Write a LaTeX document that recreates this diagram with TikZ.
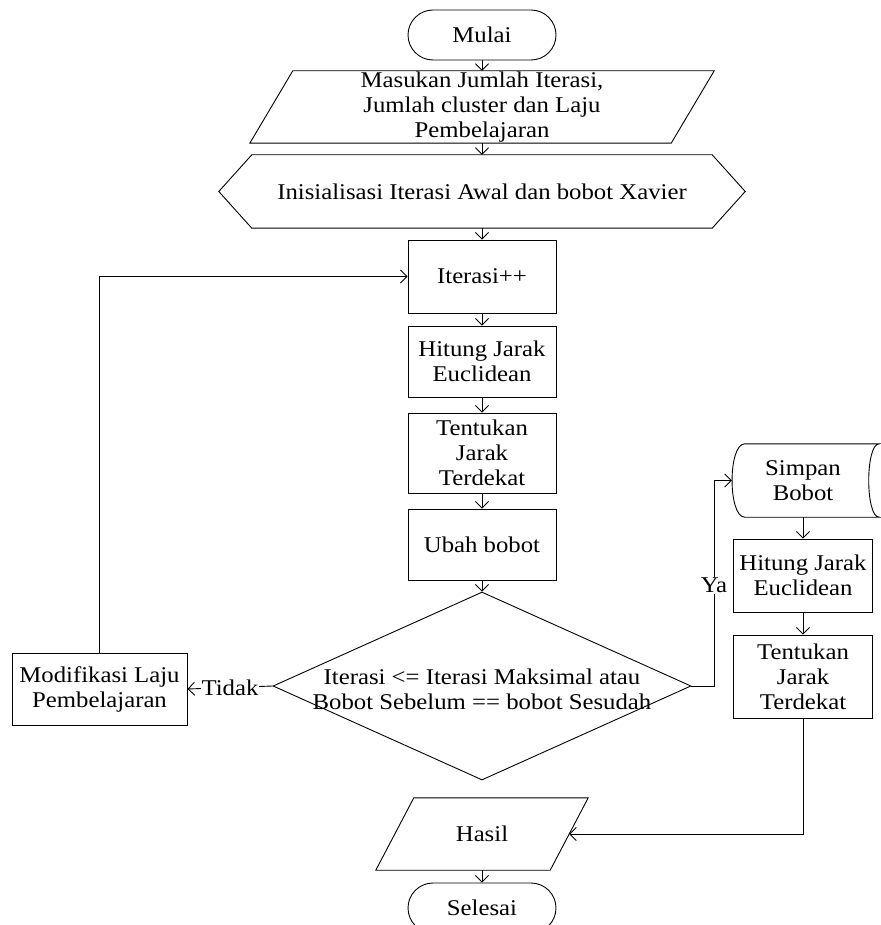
\documentclass[tikz,border=0pt]{standalone}
\usepackage{fontspec}
\setmainfont{Liberation Serif}[FakeStretch=1.1]
\usetikzlibrary{shapes.misc,shapes.geometric,arrows.meta}
\begin{document}
\begin{tikzpicture}[x=1pt,y=-1pt,
  font=\fontsize{22.5}{25}\selectfont,
  every node/.style={align=center, inner sep=0pt},
  line/.style={line width=0.9pt, draw=black},
  arr/.style={line, -{Straight Barb[length=6.5pt,width=13pt]}},
  box/.style={line, rectangle, minimum width=148pt},
  term/.style={line, rounded rectangle, minimum width=148pt, minimum height=50pt},
  lbl/.style={fill=white, inner sep=1pt}]
\fill[white] (0,0) rectangle (880,925);
\useasboundingbox (0,0) rectangle (880,925);

% main column
\node[term] (start) at (482,35) {Mulai};
\node[minimum width=421pt, minimum height=72pt] (inp) at (482,107) {Masukan Jumlah Iterasi,\\Jumlah cluster dan Laju\\Pembelajaran};
\draw[line] ([xshift=21.5pt]inp.north west) -- ([xshift=21.5pt]inp.north east) -- ([xshift=-21.5pt]inp.south east) -- ([xshift=-21.5pt]inp.south west) -- cycle;
\node[minimum width=460pt, minimum height=73pt] (init) at (482,191.5) {Inisialisasi Iterasi Awal dan bobot Xavier};
\draw[line] (init.north west) -- (init.north east) -- ([xshift=33pt]init.east) -- (init.south east) -- (init.south west) -- ([xshift=-33pt]init.west) -- cycle;
\node[box, minimum height=73pt] (it) at (482,276.5) {Iterasi++};
\node[box, minimum height=71pt] (hj) at (482,361.5) {Hitung Jarak\\Euclidean};
\node[box, minimum height=80pt] (tj) at (482,453) {Tentukan\\Jarak\\Terdekat};
\node[box, minimum height=71pt] (ub) at (482,544.5) {Ubah bobot};
\node[line, diamond, shape aspect=2.22, minimum width=418pt, minimum height=188pt] (dm) at (482,686) {};
\node (dmt) at (482,689) {Iterasi <= Iterasi Maksimal atau\\Bobot Sebelum == bobot Sesudah};
\node[line, rectangle, minimum width=175pt, minimum height=72pt] (md) at (99.5,689) {Modifikasi Laju\\Pembelajaran};
\node[minimum width=174pt, minimum height=72pt] (hs) at (482,834) {Hasil};
\draw[line] ([xshift=19pt]hs.north west) -- ([xshift=19pt]hs.north east) -- ([xshift=-19pt]hs.south east) -- ([xshift=-19pt]hs.south west) -- cycle;
\node[term] (end) at (482,908) {Selesai};

% right column
\node[minimum width=142pt, minimum height=73pt] (sb) at (803,480.5) {Simpan\\Bobot};
\draw[line] ([xshift=13pt]sb.north west) -- ([xshift=5pt]sb.north east)
  .. controls ([xshift=-9pt]sb.north east) and ([xshift=-9pt]sb.south east) .. ([xshift=5pt]sb.south east)
  -- ([xshift=13pt]sb.south west)
  .. controls ([xshift=-4pt]sb.south west) and ([xshift=-4pt]sb.north west) .. ([xshift=13pt]sb.north west) -- cycle;
\node[line, rectangle, minimum width=139pt, minimum height=73pt] (rh) at (803,575.5) {Hitung Jarak\\Euclidean};
\node[line, rectangle, minimum width=139pt, minimum height=83pt] (rt) at (803,676.5) {Tentukan\\Jarak\\Terdekat};

% connectors
\draw[arr] (start.south) -- (inp.north);
\draw[arr] (inp.south) -- (init.north);
\draw[arr] (init.south) -- (it.north);
\draw[arr] (it.south) -- (hj.north);
\draw[arr] (hj.south) -- (tj.north);
\draw[arr] (tj.south) -- (ub.north);
\draw[arr] (ub.south) -- (dm.north);
\draw[arr] (dm.west) -- node[lbl]{Tidak} (md.east);
\draw[arr] (md.north) |- (it.west);
\coordinate (yx) at (714,686);
\draw[arr] (dm.east) -- (yx) -- node[lbl, pos=0.49]{Ya} (yx |- sb.west) -- (sb.west);
\draw[arr] (sb.south) -- (rh.north);
\draw[arr] (rh.south) -- (rt.north);
\draw[arr] (rt.south) |- (hs.east);
\draw[arr] (hs.south) -- (end.north);
\end{tikzpicture}
\end{document}
